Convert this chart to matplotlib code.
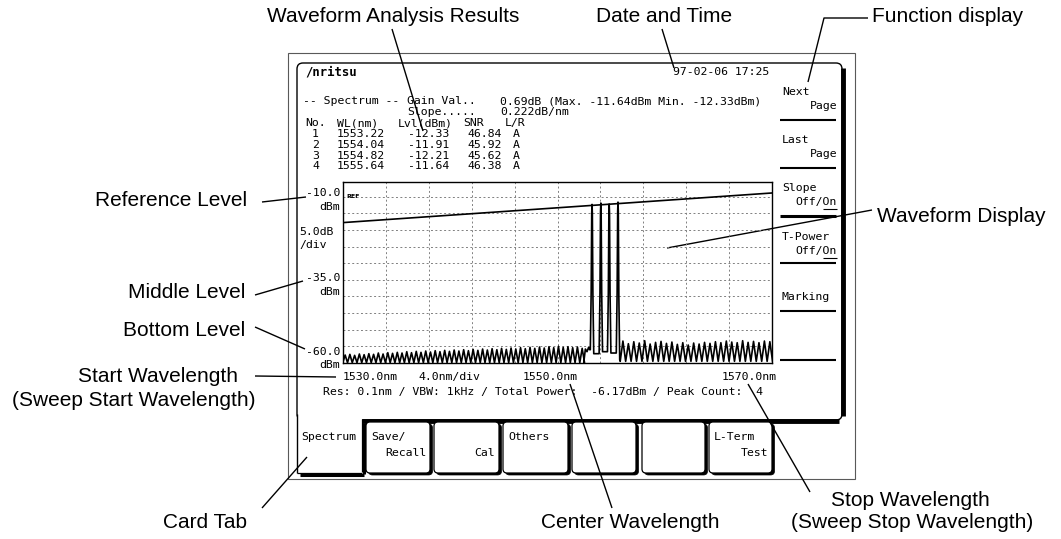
#annotated screen of the optical spectrum analyser
import numpy as np
import matplotlib.pyplot as plt
from matplotlib.patches import FancyBboxPatch, Rectangle

# ---- values ----
peak_no = [1, 2, 3, 4]
peak_wl = [1553.22, 1554.04, 1554.82, 1555.64]
peak_lvl = [-12.33, -11.91, -12.21, -11.64]
peak_snr = [46.84, 45.92, 45.62, 46.38]
peak_lr = ['A', 'A', 'A', 'A']

# floor level on each side of the peaks (left of 1, between, right of 4)
peak_floor = [-56.0, -57.2, -56.6, -57.0, -59.0]
# line shape of one peak: offset in nm and fraction of the drop to the floor
shape_off = [-0.16, -0.08, -0.03, 0.0, 0.03, 0.08, 0.16]
shape_frac = [1.0, 0.6, 0.06, 0.0, 0.06, 0.6, 1.0]

# noise comb left of the peaks
left_start, left_end = 1530.2, 1552.3
left_trough = -59.9
left_tops = [-57.6, -57.4, -57.7, -57.3, -57.5, -57.2, -57.4, -57.0, -57.3, -56.9,
             -57.1, -56.8, -57.0, -56.6, -56.9, -56.5, -56.8, -56.4, -56.7, -56.3,
             -56.6, -56.2, -56.5, -56.1, -56.4, -56.0, -56.3, -55.9, -56.2, -55.8,
             -56.1, -55.7, -56.0, -55.6, -55.9, -55.5, -55.8, -55.4, -55.7, -55.3,
             -55.6, -55.2, -55.5, -55.1, -55.4, -55.0, -55.3, -55.1, -55.4, -55.2,
             -55.6]
# small bumps just before the first peak
ped_wl = [1552.45, 1552.6, 1552.75, 1552.9, 1553.0]
ped_lvl = [-59.8, -55.8, -56.6, -55.3, -56.0]

# noise comb right of the peaks
right_start, right_end = 1556.1, 1569.8
right_trough = -59.5
right_tops = [-53.4, -54.2, -53.6, -54.0, -53.3, -54.3, -53.8, -53.5, -54.1, -53.7,
              -54.4, -53.9, -54.6, -54.0, -54.3, -53.8, -54.1, -53.6, -53.9, -53.4,
              -53.7, -53.9, -53.3, -53.8, -53.5, -53.9, -53.4, -53.6]

# slope line (0.222 dB/nm)
slope_wl = [1530.0, 1570.0]
slope_lvl = [-17.8, -8.9]

wl_ticks = [1530, 1534, 1538, 1542, 1546, 1550, 1554, 1558, 1562, 1566, 1570]
lvl_ticks = [-60, -55, -50, -45, -40, -35, -30, -25, -20, -15, -10]

softkeys = [('Next', 'Page'), ('Last', 'Page'), ('Slope', 'Off/On'),
            ('T-Power', 'Off/On'), ('Marking', '')]
tabs = [('Spectrum', ''), ('Save/', 'Recall'), ('', 'Cal'), ('Others', ''),
        ('', ''), ('', ''), ('L-Term', 'Test')]

# build the trace
def comb(start, end, tops, trough):
    pos = np.linspace(start, end, len(tops))
    half = (pos[1] - pos[0]) / 2
    xs, ys = [], []
    for p, t in zip(pos, tops):
        xs += [p - half, p]
        ys += [trough, t]
    xs.append(pos[-1] + half)
    ys.append(trough)
    return xs, ys

trace_wl, trace_lvl = comb(left_start, left_end, left_tops, left_trough)
trace_wl += ped_wl
trace_lvl += ped_lvl
for i, (p, top) in enumerate(zip(peak_wl, peak_lvl)):
    for off, frac in zip(shape_off, shape_frac):
        floor = peak_floor[i] if off < 0 else peak_floor[i + 1]
        trace_wl.append(p + off)
        trace_lvl.append(top - frac * (top - floor))
rx, ry = comb(right_start, right_end, right_tops, right_trough)
trace_wl += rx
trace_lvl += ry

# ---- figure ----
fig = plt.figure(figsize=(10.61, 5.39), dpi=100)
ov = fig.add_axes([0, 0, 1, 1])
ov.set_xlim(0, 1061)
ov.set_ylim(539, 0)
ov.axis('off')

mono = dict(family='DejaVu Sans Mono', fontsize=8.25, color='black', va='center')
lab = dict(family='Liberation Sans', fontsize=15, color='black', va='center')

def seg(xs, ys, lw=1.0, c='black', z=5):
    ov.plot(xs, ys, color=c, lw=lw, solid_capstyle='butt', zorder=z)

# bezel and screen
ov.add_patch(Rectangle((288, 53), 567, 426, fill=False, lw=0.8, ec='0.35', zorder=1))
ov.add_patch(FancyBboxPatch((297, 63), 545, 357, boxstyle='round,pad=0,rounding_size=6',
                            fc='white', ec='black', lw=1.0, zorder=2))
seg([843, 843], [68, 416], lw=3.5, z=3)
seg([362, 839], [421, 421], lw=3.5, z=3)

# card tabs
tab_x = [(296, 362), (366, 430), (434, 499), (503, 568), (572, 636), (642, 705), (709, 772)]
for i, ((x0, x1), (t1, t2)) in enumerate(zip(tab_x, tabs)):
    if i == 0:
        ov.add_patch(Rectangle((297.5, 414), x1 - 297.5, 59, fc='white', ec='none', zorder=3))
        seg([364, 364], [423, 474], lw=2.2, z=4)
        seg([300, 364], [474.5, 474.5], lw=2.2, z=4)
        seg([362, 362], [419, 472], lw=0.9, z=4)
        seg([297, 362], [472.5, 472.5], lw=0.9, z=4)
        seg([297, 297], [414, 473], lw=1.0, z=4)
    else:
        ov.add_patch(FancyBboxPatch((x0 + 2.5, 424), x1 - x0, 51,
                                    boxstyle='round,pad=0,rounding_size=4',
                                    fc='black', ec='black', lw=0.5, zorder=3))
        ov.add_patch(FancyBboxPatch((x0, 422), x1 - x0, 51,
                                    boxstyle='round,pad=0,rounding_size=4',
                                    fc='white', ec='black', lw=0.9, zorder=4))
    if t1:
        ov.text(x0 + 5, 437, t1, ha='left', zorder=6, **mono)
    if t2:
        ov.text(x1 - 4, 453, t2, ha='right', zorder=6, **mono)

# header lines of the screen
ov.text(305, 72, '/nritsu', ha='left', weight='bold', zorder=6,
        **{k: v for k, v in mono.items() if k != 'fontsize'}, fontsize=8.8)
ov.text(673, 72, '97-02-06 17:25', ha='left', zorder=6, **mono)
ov.text(303, 101, '-- Spectrum --', ha='left', zorder=6, **mono)
ov.text(407, 101, 'Gain Val..', ha='left', zorder=6, **mono)
ov.text(500, 101, '%.2fdB (Max. %.2fdBm Min. %.2fdBm)'
        % (max(peak_lvl) - min(peak_lvl), max(peak_lvl), min(peak_lvl)),
        ha='left', zorder=6, **mono)
ov.text(407, 112, 'Slope.....', ha='left', zorder=6, **mono)
ov.text(500, 112, '0.222dB/nm', ha='left', zorder=6, **mono)

ov.text(305, 123, 'No.', ha='left', zorder=6, **mono)
ov.text(337, 123, 'WL(nm)', ha='left', zorder=6, **mono)
ov.text(398, 123, 'Lvl(dBm)', ha='left', zorder=6, **mono)
ov.text(463, 123, 'SNR', ha='left', zorder=6, **mono)
ov.text(505, 123, 'L/R', ha='left', zorder=6, **mono)
for k, (n, w, l, s, lr) in enumerate(zip(peak_no, peak_wl, peak_lvl, peak_snr, peak_lr)):
    y = 134 + k * 10.8
    ov.text(319, y, str(n), ha='right', zorder=6, **mono)
    ov.text(337, y, '%.2f' % w, ha='left', zorder=6, **mono)
    ov.text(449, y, '%.2f' % l, ha='right', zorder=6, **mono)
    ov.text(467, y, '%.2f' % s, ha='left', zorder=6, **mono)
    ov.text(513, y, lr, ha='left', zorder=6, **mono)

# function keys on the right
key_y = [92, 140, 188, 237, 297]
for (k1, k2), y in zip(softkeys, key_y):
    ov.text(782, y, k1, ha='left', zorder=6, **mono)
    if k2:
        ov.text(837, y + 14, k2, ha='right', zorder=6, **mono)
    if k2 == 'Off/On':
        seg([823, 837], [y + 21, y + 21], lw=0.8, z=6)
for y, w in zip([120, 168, 216, 263, 311, 360], [1.5, 1.5, 2.2, 1.5, 1.5, 1.5]):
    seg([780, 836], [y, y], lw=w, z=6)

# level and wavelength scale texts
for txt, y in [('-10.0', 193), ('dBm', 207), ('-35.0', 278), ('dBm', 292),
               ('-60.0', 352), ('dBm', 365)]:
    ov.text(340, y, txt, ha='right', zorder=6, **mono)
ov.text(299, 232, '5.0dB', ha='left', zorder=6, **mono)
ov.text(299, 245, '/div', ha='left', zorder=6, **mono)
ov.text(343, 377, '%.1fnm' % wl_ticks[0], ha='left', zorder=6, **mono)
ov.text(418, 377, '4.0nm/div', ha='left', zorder=6, **mono)
ov.text(523, 377, '%.1fnm' % wl_ticks[5], ha='left', zorder=6, **mono)
ov.text(722, 377, '%.1fnm' % wl_ticks[-1], ha='left', zorder=6, **mono)
ov.text(323, 392, 'Res: 0.1nm / VBW: 1kHz / Total Power:  -6.17dBm / Peak Count:  %d'
        % len(peak_no), ha='left', zorder=6, **mono)

# ---- spectrum plot ----
ax = fig.add_axes([343 / 1061, 1 - 363 / 539, 429 / 1061, 181 / 539], zorder=3)
ax.patch.set_alpha(0)
ax.set_xlim(1530, 1570)
ax.set_ylim(-60, -5.6)
ax.set_xticks(wl_ticks)
ax.set_yticks(lvl_ticks)
ax.tick_params(length=0, labelbottom=False, labelleft=False)
ax.grid(True, color='0.5', lw=0.7, linestyle=(0, (2, 2.5)))
for sp in ax.spines.values():
    sp.set_linewidth(1.0)
ax.plot(slope_wl, slope_lvl, color='black', lw=1.2)
ax.plot(trace_wl, trace_lvl, color='black', lw=1.2)
ax.text(1530.3, -10, 'REF', fontsize=4.5, weight='bold', va='center', ha='left')

# ---- callouts ----
ov.text(393, 17, 'Waveform Analysis Results', ha='center', **lab)
seg([392, 423], [29, 131])
ov.text(664, 17, 'Date and Time', ha='center', **lab)
seg([662, 674], [29, 68])
ov.text(872, 17, 'Function display', ha='left', **lab)
seg([868, 824, 808], [18, 18, 82])

ov.text(247, 200, 'Reference Level', ha='right', **lab)
seg([262, 306], [202, 197])
ov.text(245, 293, 'Middle Level', ha='right', **lab)
seg([255, 303], [295, 281])
ov.text(245, 330, 'Bottom Level', ha='right', **lab)
seg([255, 305], [327, 349])
ov.text(238, 376, 'Start Wavelength', ha='right', **lab)
ov.text(255, 400, '(Sweep Start Wavelength)', ha='right', **lab)
seg([255, 336], [376, 377])

ov.text(877, 217, 'Waveform Display', ha='left', **lab)
seg([872, 667], [210, 248], z=8)

ov.text(205, 522, 'Card Tab', ha='center', **lab)
seg([262, 307], [508, 457], z=8)
ov.text(630, 522, 'Center Wavelength', ha='center', **lab)
seg([570, 612], [384, 508], z=8)
ov.text(910, 500, 'Stop Wavelength', ha='center', **lab)
ov.text(912, 522, '(Sweep Stop Wavelength)', ha='center', **lab)
seg([748, 810], [384, 492], z=8)

fig.savefig('out.png', dpi=100)
